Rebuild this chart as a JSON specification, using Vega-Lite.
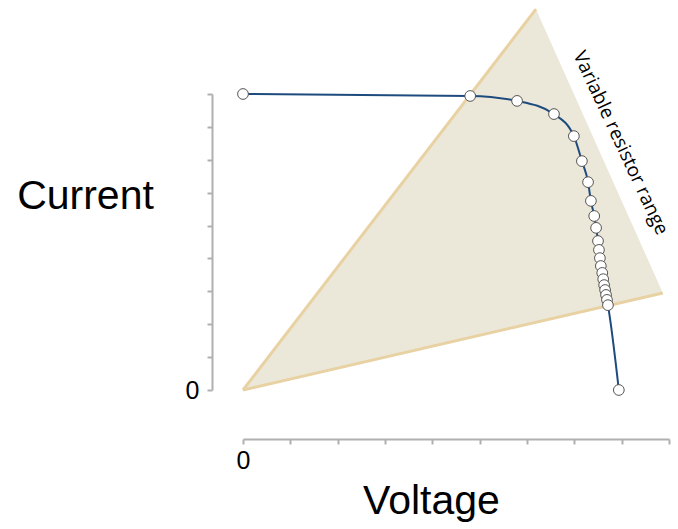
{
  "$schema": "https://vega.github.io/schema/vega-lite/v6.json",
  "width": 426,
  "height": 296,
  "autosize": "none",
  "padding": {"left": 243, "top": 94, "right": 9, "bottom": 139},
  "background": "white",
  "config": {"view": {"stroke": null}},
  "datasets": {
    "triangle": [
      {"v": 0, "i": 0, "i2": 0},
      {"v": 6.19, "i": 2.059, "i2": 11.58},
      {"v": 8.87, "i": 2.95, "i2": 2.95}
    ],
    "edges": [
      {"edge": "left", "v": 0, "i": 0},
      {"edge": "left", "v": 6.19, "i": 11.58},
      {"edge": "bottom", "v": 0, "i": 0},
      {"edge": "bottom", "v": 8.87, "i": 2.95}
    ],
    "iv": [
      {"v": 0.0, "i": 9.0},
      {"v": 4.80, "i": 8.94},
      {"v": 5.79, "i": 8.79},
      {"v": 6.57, "i": 8.39},
      {"v": 6.99, "i": 7.72},
      {"v": 7.16, "i": 6.96},
      {"v": 7.29, "i": 6.32},
      {"v": 7.35, "i": 5.75},
      {"v": 7.42, "i": 5.29},
      {"v": 7.46, "i": 4.93},
      {"v": 7.50, "i": 4.53},
      {"v": 7.52, "i": 4.26},
      {"v": 7.54, "i": 4.01},
      {"v": 7.56, "i": 3.77},
      {"v": 7.59, "i": 3.56},
      {"v": 7.61, "i": 3.37},
      {"v": 7.63, "i": 3.19},
      {"v": 7.65, "i": 3.04},
      {"v": 7.67, "i": 2.89},
      {"v": 7.69, "i": 2.74},
      {"v": 7.71, "i": 2.58},
      {"v": 7.94, "i": 0.0}
    ],
    "note": [
      {"v": 7.98, "i": 7.51, "label": "Variable resistor range"}
    ]
  },
  "encoding": {
    "x": {
      "field": "v",
      "type": "quantitative",
      "scale": {"domain": [0, 9], "nice": false, "zero": false},
      "axis": {
        "title": "Voltage",
        "values": [0, 1, 2, 3, 4, 5, 6, 7, 8, 9],
        "labelExpr": "datum.value == 0 ? '0' : ''",
        "offset": 49,
        "grid": false,
        "domainColor": "#b0b0b0",
        "domainWidth": 2,
        "tickColor": "#b0b0b0",
        "tickWidth": 2,
        "tickSize": 5,
        "labelFont": "Liberation Sans",
        "labelFontSize": 25,
        "labelColor": "#000000",
        "labelPadding": 4,
        "labelFlush": false,
        "titleFont": "Liberation Sans",
        "titleFontSize": 41,
        "titleFontWeight": "normal",
        "titleColor": "#000000",
        "titleX": 188,
        "titleY": 74,
        "titleBaseline": "alphabetic",
        "titleAlign": "center"
      }
    },
    "y": {
      "field": "i",
      "type": "quantitative",
      "scale": {"domain": [0, 9], "nice": false, "zero": false},
      "axis": {
        "title": "Current",
        "values": [0, 1, 2, 3, 4, 5, 6, 7, 8, 9],
        "labelExpr": "datum.value == 0 ? '0' : ''",
        "offset": 31,
        "grid": false,
        "domainColor": "#b0b0b0",
        "domainWidth": 2,
        "tickColor": "#b0b0b0",
        "tickWidth": 2,
        "tickSize": 5,
        "labelFont": "Liberation Sans",
        "labelFontSize": 25,
        "labelColor": "#000000",
        "labelPadding": 8,
        "labelFlush": false,
        "titleFont": "Liberation Sans",
        "titleFontSize": 41,
        "titleFontWeight": "normal",
        "titleColor": "#000000",
        "titleAngle": 0,
        "titleX": -127,
        "titleY": 114,
        "titleBaseline": "alphabetic",
        "titleAlign": "center"
      }
    }
  },
  "layer": [
    {
      "data": {"name": "triangle"},
      "mark": {"type": "area", "color": "#ece8d9", "opacity": 1},
      "encoding": {"y2": {"field": "i2"}}
    },
    {
      "data": {"name": "edges"},
      "mark": {"type": "line", "color": "#e8d2a4", "strokeWidth": 3},
      "encoding": {"detail": {"field": "edge", "type": "nominal"}}
    },
    {
      "data": {"name": "iv"},
      "mark": {"type": "line", "color": "#1d4b7d", "strokeWidth": 2, "interpolate": "monotone"},
      "encoding": {}
    },
    {
      "data": {"name": "iv"},
      "mark": {"type": "point", "filled": true, "fill": "white", "stroke": "#555555", "strokeWidth": 1, "size": 115, "opacity": 1},
      "encoding": {}
    },
    {
      "data": {"name": "note"},
      "mark": {"type": "text", "font": "Open Sans", "fontSize": 19, "angle": 65, "align": "center", "baseline": "middle", "color": "#000000"},
      "encoding": {"text": {"field": "label"}}
    }
  ]
}
